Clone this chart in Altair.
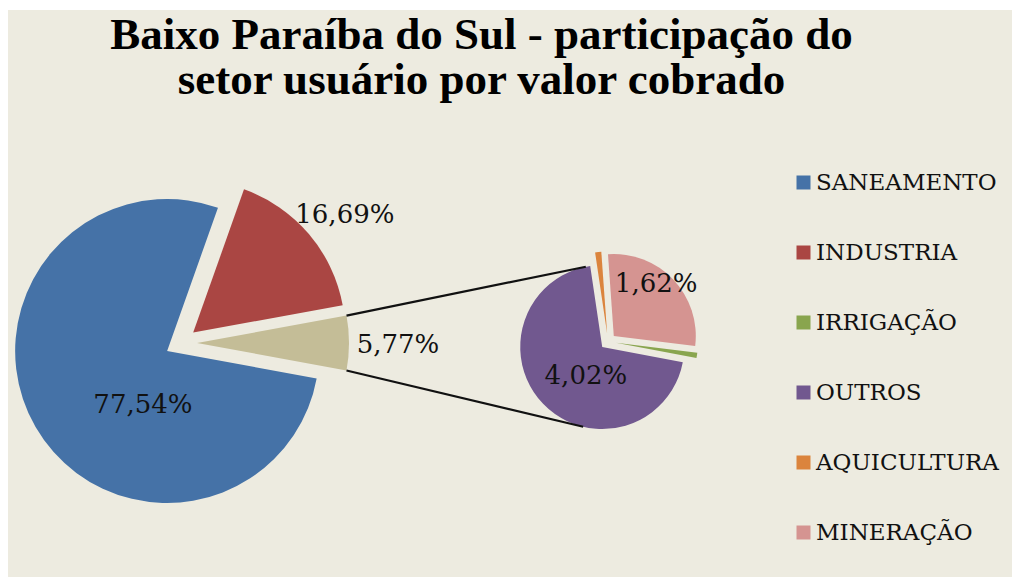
import math
import altair as alt
import pandas as pd

# ---------------- data ----------------
categories = ["SANEAMENTO", "INDUSTRIA", "IRRIGAÇÃO", "OUTROS", "AQUICULTURA", "MINERAÇÃO"]
values = [77.54, 16.69, 0.06, 4.02, 0.07, 1.62]
in_second = [False, False, True, True, True, True]
colors = ["#4572A7", "#AA4643", "#89A54E", "#71588F", "#DB843D", "#D59491"]
other_name = "Outros (agrupado)"
other_color = "#C4BD97"
title_lines = ["Baixo Paraíba do Sul - participação do", "setor usuário por valor cobrado"]

# ---------------- layout ----------------
W, H = 1004, 567
PAD = {"left": 8, "top": 10, "right": 2, "bottom": 0}
MAIN_C, MAIN_R, MAIN_EXP = (173, 333), 152, 16
SEC_C, SEC_R, SEC_EXP, SEC_START = (600, 331.5), 82, 8, 97.0
LABEL_MIN = 1.0
# label placement (radius from pie centre, angular shift from slice middle, degrees)
main_label_pos = {"SANEAMENTO": (73, -28.5), "INDUSTRIA": (208, 2.4), other_name: (217, 0.5)}
sec_label_pos = {"OUTROS": (41, -13.5), "MINERAÇÃO": (75, -6.5)}


def fmt(v):
    return f"{v:.2f}".replace(".", ",") + "%"


def polar(c, r, deg):
    t = math.radians(deg)
    return c[0] + r * math.sin(t), c[1] - r * math.cos(t)


def build(cats, vals, centre, exp, start, label_pos):
    total = sum(vals)
    rows, cum = [], 0.0
    for c, v in zip(cats, vals):
        c0, c1 = cum, cum + v
        cum = c1
        mid = start + (c0 + c1) / 2 / total * 360
        ex, ey = polar(centre, exp, mid)
        row = {"cat": c, "value": v, "c0": c0, "c1": c1, "ex": ex, "ey": ey,
               "a0": start + c0 / total * 360, "a1": start + c1 / total * 360,
               "label": fmt(v) if v >= LABEL_MIN else ""}
        if c in label_pos:
            r, sh = label_pos[c]
            row["lx"], row["ly"] = polar(centre, r, mid + sh)
        rows.append(row)
    return pd.DataFrame(rows), total


sec_cats = [c for c, s in zip(categories, in_second) if s]
sec_vals = [v for v, s in zip(values, in_second) if s]
main_cats = [c for c, s in zip(categories, in_second) if not s] + [other_name]
main_vals = [v for v, s in zip(values, in_second) if not s] + [sum(sec_vals)]

main_total = sum(main_vals)
main_start = 90 + (main_vals[-1] / main_total * 360) / 2
main_df, _ = build(main_cats, main_vals, MAIN_C, MAIN_EXP, main_start, main_label_pos)
sec_df, sec_total = build(sec_cats, sec_vals, SEC_C, SEC_EXP, SEC_START, sec_label_pos)

# connector (series) lines: from corners of the grouped slice, tangent to the biggest slice of the 2nd pie
oth = main_df.iloc[-1]
p_up = polar((oth.ex, oth.ey), MAIN_R, oth.a0)
p_dn = polar((oth.ex, oth.ey), MAIN_R, oth.a1)
big = sec_df.loc[sec_df["value"].idxmax()]
q = (big.ex, big.ey)


def tangent(p, upper):
    dx, dy = p[0] - q[0], p[1] - q[1]
    d = math.hypot(dx, dy)
    base = math.atan2(dy, dx)
    a = math.acos(SEC_R / d)
    pts = [(q[0] + SEC_R * math.cos(base + s * a), q[1] + SEC_R * math.sin(base + s * a)) for s in (1, -1)]
    pts.sort(key=lambda t: t[1])
    return pts[0] if upper else pts[1]


t_up, t_dn = tangent(p_up, True), tangent(p_dn, False)
conn_df = pd.DataFrame([
    {"x": p_up[0], "y": p_up[1], "x2": t_up[0], "y2": t_up[1]},
    {"x": p_dn[0], "y": p_dn[1], "x2": t_dn[0], "y2": t_dn[1]},
])

color_scale = alt.Scale(domain=categories + [other_name], range=colors + [other_color])
legend = alt.Legend(
    values=categories, title=None, orient="none", legendX=784, legendY=161,
    direction="vertical", symbolType="square", symbolSize=196, symbolStrokeWidth=0,
    symbolOpacity=1, labelFont="DejaVu Serif", labelFontSize=23, labelColor="#111111",
    labelOffset=1, rowPadding=46, padding=0, labelLimit=300,
)

main_arcs = alt.Chart(main_df).mark_arc(radius=MAIN_R, stroke=None).encode(
    theta=alt.Theta("c0:Q", scale=alt.Scale(domain=[0, main_total],
                    range=[math.radians(main_start), math.radians(main_start) + 2 * math.pi])),
    theta2="c1:Q",
    x=alt.X("ex:Q", scale=None),
    y=alt.Y("ey:Q", scale=None),
    color=alt.Color("cat:N", scale=color_scale, legend=legend),
)

sec_arcs = alt.Chart(sec_df).mark_arc(radius=SEC_R, stroke=None).encode(
    theta=alt.Theta("c0:Q", scale=alt.Scale(domain=[0, sec_total],
                    range=[math.radians(SEC_START), math.radians(SEC_START) + 2 * math.pi])),
    theta2="c1:Q",
    x=alt.X("ex:Q", scale=None),
    y=alt.Y("ey:Q", scale=None),
    color=alt.Color("cat:N", scale=color_scale, legend=legend),
)

conns = alt.Chart(conn_df).mark_rule(color="#111111", strokeWidth=2.1).encode(
    x=alt.X("x:Q", scale=None), y=alt.Y("y:Q", scale=None),
    x2="x2:Q", y2="y2:Q",
)

labels_df = pd.concat([main_df, sec_df]).dropna(subset=["lx"])
labels = alt.Chart(labels_df).mark_text(
    font="DejaVu Serif", fontSize=26, color="#111111", align="center", baseline="middle"
).encode(
    x=alt.X("lx:Q", scale=None), y=alt.Y("ly:Q", scale=None), text="label:N",
)

chart = alt.layer(main_arcs, sec_arcs, conns, labels).resolve_scale(
    theta="independent"
).properties(
    width=W, height=H, autosize=alt.AutoSizeParams(type="none"), padding=PAD,
    background="white",
    title=alt.TitleParams(
        text=title_lines, font="Liberation Serif", fontSize=45, fontWeight="bold",
        color="#000000", anchor="middle", dx=-28.5, offset=-93, lineHeight=45,
    ),
).configure_view(fill="#EDEBE0", strokeWidth=0)

chart.save("out.html", embed_options={"renderer": "svg", "actions": False})
